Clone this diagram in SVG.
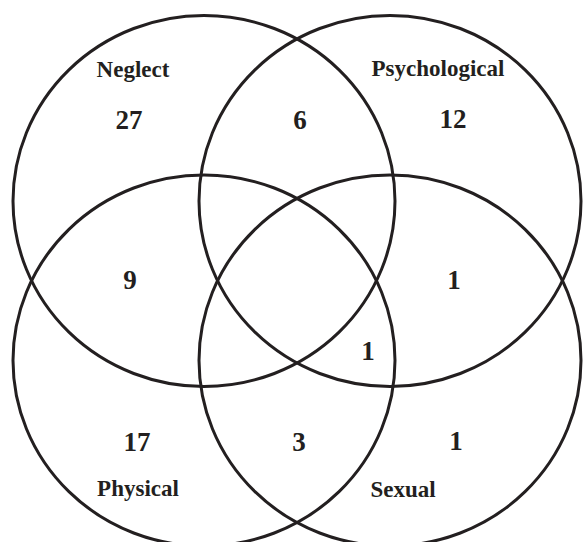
<svg xmlns="http://www.w3.org/2000/svg" width="583" height="542" viewBox="0 0 583 542">
<style>
.c{fill:none;stroke:#231f20;stroke-width:3}
.lbl{font-family:"Liberation Serif","Times New Roman",serif;font-weight:bold;font-size:23px;fill:#231f20;text-anchor:middle}
.num{font-family:"Liberation Serif","Times New Roman",serif;font-weight:bold;font-size:27px;fill:#231f20;text-anchor:middle}
</style>
<rect width="583" height="542" fill="#ffffff"/>
<g id="neglect">
<ellipse class="c" cx="204" cy="201" rx="191" ry="185.5"/>
<text class="lbl" x="133" y="77">Neglect</text>
</g>
<g id="psychological">
<ellipse class="c" cx="390" cy="201" rx="191" ry="185.5"/>
<text class="lbl" x="438" y="76">Psychological</text>
</g>
<g id="physical">
<ellipse class="c" cx="204" cy="360.5" rx="191" ry="185.5"/>
<text class="lbl" x="138" y="496">Physical</text>
</g>
<g id="sexual">
<ellipse class="c" cx="390" cy="360.5" rx="191" ry="185.5"/>
<text class="lbl" x="403" y="497">Sexual</text>
</g>
<g id="counts">
<text class="num" x="129" y="128.5">27</text>
<text class="num" x="300" y="128.5">6</text>
<text class="num" x="453" y="127.5">12</text>
<text class="num" x="130" y="288.5">9</text>
<text class="num" x="454" y="288.5">1</text>
<text class="num" x="368" y="359.5">1</text>
<text class="num" x="137" y="451">17</text>
<text class="num" x="299" y="451">3</text>
<text class="num" x="456" y="450">1</text>
</g>
<g id="connectors"></g>
</svg>
